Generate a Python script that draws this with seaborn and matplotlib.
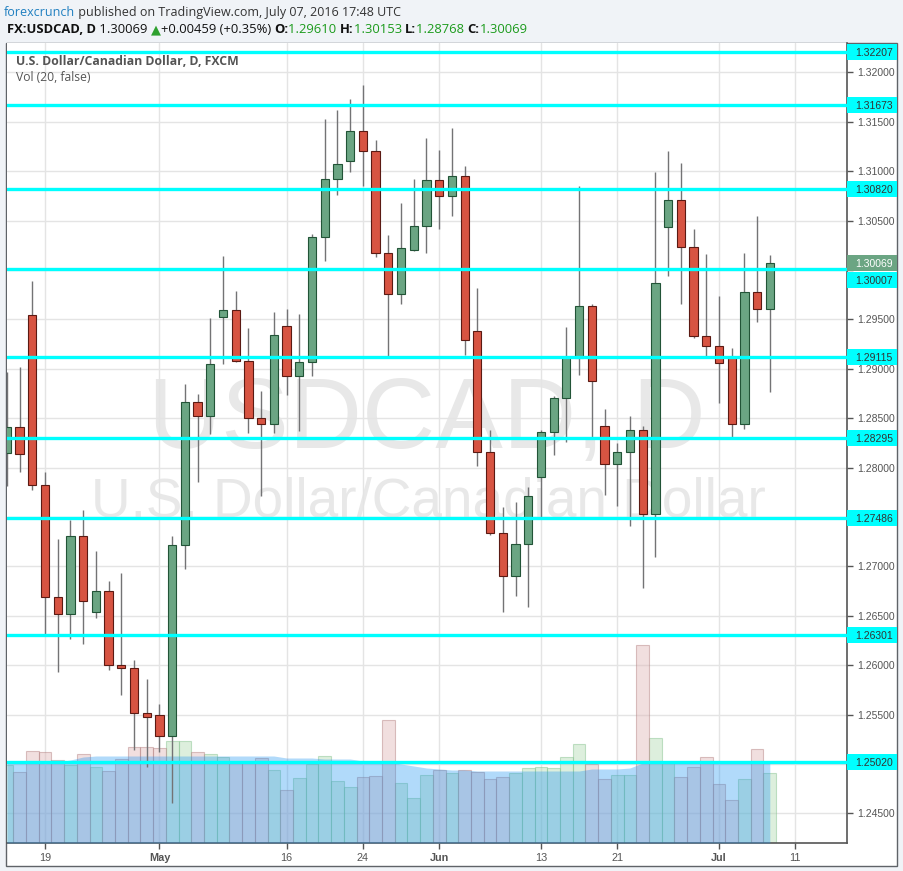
import numpy as np
import pandas as pd
import matplotlib
matplotlib.use("Agg")
import matplotlib.pyplot as plt
from matplotlib.patches import Rectangle
import seaborn as sns

# FX:USDCAD daily candles (FXCM), 14 Apr 2016 - 7 Jul 2016
opens = [1.2815, 1.2841, 1.2954, 1.2782, 1.2669, 1.2652, 1.2731, 1.2654, 1.2675, 1.2600,
         1.2597, 1.2552, 1.2550, 1.2528, 1.2722, 1.2866, 1.2852, 1.2952, 1.2960, 1.2908,
         1.2850, 1.2844, 1.2943, 1.2893, 1.2907, 1.3033, 1.3092, 1.3110, 1.3141, 1.3120,
         1.3017, 1.2976, 1.3020, 1.3045, 1.3091, 1.3075, 1.3095, 1.2938, 1.2816, 1.2734,
         1.2690, 1.2723, 1.2790, 1.2836, 1.2870, 1.2911, 1.2964, 1.2842, 1.2804, 1.2816,
         1.2838, 1.2753, 1.3044, 1.3071, 1.3023, 1.2933, 1.2923, 1.2912, 1.2844, 1.2978,
         1.29610]
highs = [1.2897, 1.2902, 1.2989, 1.2796, 1.2728, 1.2747, 1.2757, 1.2716, 1.2685, 1.2693,
         1.2605, 1.2586, 1.2561, 1.2731, 1.2885, 1.2875, 1.2951, 1.3014, 1.2979, 1.2941,
         1.2878, 1.2957, 1.2961, 1.2955, 1.3036, 1.3153, 1.3162, 1.3173, 1.3187, 1.3132,
         1.3035, 1.3068, 1.3092, 1.3134, 1.3121, 1.3144, 1.3105, 1.2982, 1.2838, 1.2760,
         1.2765, 1.2780, 1.2838, 1.2872, 1.2942, 1.3085, 1.2966, 1.2859, 1.2825, 1.2852,
         1.2842, 1.3099, 1.3120, 1.3108, 1.3042, 1.3016, 1.2974, 1.2921, 1.3017, 1.3055,
         1.30153]
lows = [1.2781, 1.2796, 1.2777, 1.2632, 1.2593, 1.2627, 1.2621, 1.2648, 1.2595, 1.2570,
        1.2514, 1.2497, 1.2512, 1.2460, 1.2697, 1.2785, 1.2834, 1.2905, 1.2907, 1.2835,
        1.2771, 1.2835, 1.2873, 1.2837, 1.2893, 1.3009, 1.3076, 1.3099, 1.3085, 1.3013,
        1.2913, 1.2966, 1.3019, 1.3017, 1.3042, 1.3055, 1.2914, 1.2802, 1.2732, 1.2654,
        1.2670, 1.2659, 1.2750, 1.2813, 1.2826, 1.2894, 1.2831, 1.2772, 1.2761, 1.2741,
        1.2678, 1.2710, 1.2994, 1.2966, 1.2931, 1.2913, 1.2865, 1.2831, 1.2839, 1.2947,
        1.28768]
closes = [1.2841, 1.2814, 1.2782, 1.2669, 1.2652, 1.2731, 1.2665, 1.2675, 1.2600, 1.2597,
          1.2552, 1.2548, 1.2528, 1.2722, 1.2866, 1.2852, 1.2905, 1.2960, 1.2908, 1.2850,
          1.2844, 1.2934, 1.2893, 1.2907, 1.3033, 1.3092, 1.3107, 1.3141, 1.3120, 1.3017,
          1.2976, 1.3022, 1.3045, 1.3091, 1.3075, 1.3095, 1.2929, 1.2816, 1.2734, 1.2690,
          1.2723, 1.2771, 1.2836, 1.2870, 1.2911, 1.2964, 1.2888, 1.2804, 1.2816, 1.2838,
          1.2753, 1.2987, 1.3071, 1.3023, 1.2933, 1.2923, 1.2906, 1.2844, 1.2978, 1.2961,
          1.30069]
volumes = [78, 71, 92, 91, 83, 78, 89, 76, 72, 84,
           96, 96, 95, 102, 102, 91, 89, 86, 80, 80,
           85, 73, 53, 65, 79, 87, 62, 56, 66, 67,
           123, 60, 45, 68, 73, 70, 73, 71, 64, 66,
           70, 75, 76, 75, 86, 99, 79, 64, 68, 68,
           198, 105, 80, 66, 76, 86, 59, 43, 64, 94,
           70]
vol_ma = [81, 81, 81, 81, 81, 83, 86, 87, 87, 87,
          87, 87, 87, 87, 87, 87, 87, 87, 87, 87,
          87, 87, 85, 85, 85, 84, 84, 84, 82, 82,
          81, 79, 77, 75, 74, 73, 73, 72, 72, 72,
          72, 72, 72, 72, 72, 72, 74, 74, 74, 75,
          80, 82, 82, 82, 82, 82, 82, 82, 82, 82,
          82]

levels = [1.32207, 1.31673, 1.30820, 1.30007, 1.29115, 1.28295, 1.27486, 1.26301, 1.25020]
last_price = 1.30069

tick_dates = ['2016-04-19', '2016-05-02', '2016-05-16', '2016-05-24', '2016-06-01',
              '2016-06-13', '2016-06-21', '2016-07-01', '2016-07-11']
tick_labels = ['19', 'May', '16', '24', 'Jun', '13', '21', 'Jul', '11']
price_ticks = np.round(np.arange(1.245, 1.3201, 0.005), 3)
hidden_ticks = [1.250, 1.275, 1.300]

W, H = 904, 871
GREEN, GREEN_EDGE = '#6ba583', '#225437'
RED, RED_EDGE = '#d75442', '#5b1a13'
GRID = '#e4e4e4'
AXC = '#555555'

sns.set_style('white')
plt.rcParams['font.family'] = ['Liberation Sans', 'DejaVu Sans']

days = pd.bdate_range('2016-04-14', '2016-07-15')
x = np.arange(len(opens))
up = np.array(closes) >= np.array(opens)
df = pd.DataFrame({'pos': x, 'open': opens, 'high': highs, 'low': lows,
                   'close': closes, 'vol': volumes, 'ma': vol_ma, 'up': up})
tick_pos = [days.get_loc(pd.Timestamp(d)) for d in tick_dates]

fig = plt.figure(figsize=(W / 100, H / 100), dpi=100, facecolor='#f0f3f7')
fig.patches.append(Rectangle((6 / W, 5 / H), 891 / W, 823 / H, transform=fig.transFigure,
                             facecolor='white', edgecolor='#5f6368', lw=1.0, zorder=-5))

axv = fig.add_axes([7 / W, 28 / H, 840 / W, 800 / H])
ax = axv.twinx()
axv.set_zorder(0)
ax.set_zorder(1)
ax.patch.set_visible(False)

ymin, ymax = 1.24200, 1.32298
ax.set_ylim(ymin, ymax)
px_per_unit = 800 / (ymax - ymin)

# volume pane (bottom layer)
for flag, fc, ec in [(True, '#b4dcb4', '#7fbf87'), (False, '#e0b8b8', '#b07c7c')]:
    sub = df[df['up'] == flag]
    sns.barplot(data=sub, x='pos', y='vol', native_scale=True, width=1.0, color=fc,
                saturation=1, alpha=0.45, edgecolor=ec, linewidth=0.8, errorbar=None,
                ax=axv, zorder=2)
axv.fill_between(df['pos'], 0, df['ma'], color='#2196f3', alpha=0.35, lw=0, zorder=3)
axv.set_ylim(0, 800)
axv.set_xlim(0.01, 66.07)
axv.set_xlabel('')
axv.set_ylabel('')
axv.set_yticks([])

# grid
axv.set_xticks(tick_pos)
axv.set_xticklabels(tick_labels)
axv.grid(axis='x', color=GRID, lw=1.0, zorder=0)
axv.set_axisbelow(True)
for p in price_ticks:
    axv.plot([0, 1], [p, p], transform=ax.get_yaxis_transform(), color=GRID, lw=1.0, zorder=0.5)

# watermark
axv.text(427 / W, 1 - 448 / H, 'USDCAD, D', transform=fig.transFigure, ha='center',
         va='baseline', fontsize=73, color='#e8e8e8', zorder=0.3)
axv.text(428 / W, 1 - 517 / H, 'U.S. Dollar/Canadian Dollar', transform=fig.transFigure,
         ha='center', va='baseline', fontsize=39.5, color='#e8e8e8', zorder=0.3)

# candles
ax.vlines(df['pos'], df['low'], df['high'], color='#737375', lw=1.0, zorder=2)
body_lo = np.minimum(df['open'], df['close'])
body_h = np.maximum(np.abs(df['close'] - df['open']), 0.00008)
ax.bar(df['pos'], body_h, bottom=body_lo, width=0.65,
       color=np.where(up, GREEN, RED), edgecolor=np.where(up, GREEN_EDGE, RED_EDGE),
       lw=0.8, zorder=3)

# support / resistance levels
for lv in levels:
    ax.axhline(lv, color='#00ffff', lw=2.4, zorder=5)

# price axis
ax.set_yticks(price_ticks)
ax.set_yticklabels(['' if p in hidden_ticks else f'{p:.5f}' for p in price_ticks])
ax.tick_params(axis='y', direction='out', length=4, width=1, color=AXC,
               labelcolor=AXC, labelsize=7.5, pad=3)
axv.tick_params(axis='x', direction='out', length=4, width=1, color=AXC,
                labelcolor=AXC, labelsize=7.8, pad=3, bottom=True)
for lab in axv.get_xticklabels():
    if lab.get_text() in ('May', 'Jun', 'Jul'):
        lab.set_fontweight('bold')

for s in ['left', 'top', 'bottom']:
    ax.spines[s].set_visible(False)
for s in ['left', 'top', 'right']:
    axv.spines[s].set_visible(False)
ax.spines['right'].set_color(AXC)
ax.spines['right'].set_linewidth(1.2)
axv.spines['bottom'].set_color(AXC)
axv.spines['bottom'].set_linewidth(1.2)


def price_label(y, text, bg, fg, dy_px=0):
    tr = ax.get_yaxis_transform()
    yc = y + dy_px / px_per_unit
    h = 16 / px_per_unit
    ax.add_patch(Rectangle((1.0, yc - h / 2), 50 / 840, h, transform=tr, facecolor=bg,
                           edgecolor='none', clip_on=False, zorder=6))
    ax.text(1 + 8.5 / 840, yc, text, transform=tr, ha='left', va='center_baseline',
            fontsize=7.5, color=fg, zorder=7, clip_on=False)


for lv in levels:
    shift = -11 if lv == 1.30007 else 0
    price_label(lv, f'{lv:.5f}', '#00ffff', '#333333', shift)
price_label(last_price, f'{last_price:.5f}', GREEN, 'white')

# header
renderer = fig.canvas.get_renderer()


def seg_text(x_px, y_px, parts, size):
    for s, color, weight in parts:
        t = fig.text(x_px / W, 1 - y_px / H, s, color=color, fontweight=weight,
                     fontsize=size, va='baseline', ha='left',
                     family=['Open Sans', 'DejaVu Sans'])
        x_px += t.get_window_extent(renderer).width


seg_text(4, 16, [('forexcrunch', '#1f7fc0', 'normal'),
                 (' published on TradingView.com, July 07, 2016 17:48 UTC', '#333333', 'normal')], 9.0)
VG = '#1c9b1c'
seg_text(7, 33, [('FX:USDCAD, D', '#111111', 'bold'), (' 1.30069 ', '#111111', 'normal'),
                 ('▲', '#2ea02e', 'normal'), ('+0.00459 (+0.35%) ', '#111111', 'normal'),
                 ('O:', '#111111', 'bold'), ('1.29610 ', VG, 'normal'),
                 ('H:', '#111111', 'bold'), ('1.30153 ', VG, 'normal'),
                 ('L:', '#111111', 'bold'), ('1.28768 ', VG, 'normal'),
                 ('C:', '#111111', 'bold'), ('1.30069', VG, 'normal')], 9.4)
seg_text(16, 65, [('U.S. Dollar/Canadian Dollar, D, FXCM', '#555555', 'bold')], 8.8)
seg_text(16, 81, [('Vol (20, false)', '#555555', 'normal')], 8.7)

fig.savefig('out.png', dpi=100, facecolor=fig.get_facecolor())
